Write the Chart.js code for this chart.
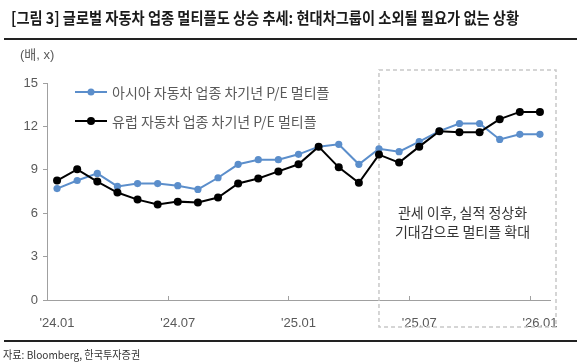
<!DOCTYPE html>
<html>
<head>
<meta charset="utf-8">
<script src="https://cdn.jsdelivr.net/npm/chart.js@4.4.1/dist/chart.umd.min.js"></script>
<style>
  body { margin: 0; width: 582px; height: 363px; position: relative; background: #fff; overflow: hidden;
         font-family: 'Liberation Sans', 'Noto Sans CJK KR', sans-serif; }
  #c { position: absolute; left: 0; top: 0; }
  .txt { position: absolute; white-space: nowrap; transform-origin: left center; }
  #title { left: 11px; top: 6px; font-size: 16px; line-height: 22px; font-weight: bold; color: #1a1a1a;
           font-family: 'Noto Sans CJK KR', sans-serif; transform: scaleX(0.89); }
  .rule { position: absolute; left: 4px; width: 573px; height: 2px; background: #222; }
  #src { left: 3px; top: 346px; font-size: 11px; line-height: 16px; color: #333;
         font-family: 'Noto Sans CJK KR', sans-serif; transform: scaleX(0.92); }
  #unit { left: 20px; top: 46px; font-size: 13px; line-height: 18px; color: #595959; }
</style>
</head>
<body>
<canvas id="c" width="582" height="363"></canvas>
<div id="title" class="txt">[그림 3] 글로벌 자동차 업종 멀티플도 상승 추세: 현대차그룹이 소외될 필요가 없는 상황</div>
<div class="rule" style="top:38px"></div>
<div class="rule" style="top:340px"></div>
<div id="src" class="txt">자료: Bloomberg, 한국투자증권</div>
<div id="unit" class="txt">(배, x)</div>
<script>
// monthly, '24.01 ~ '26.01
var months = ["'24.01", "'24.02", "'24.03", "'24.04", "'24.05", "'24.06", "'24.07", "'24.08", "'24.09",
              "'24.10", "'24.11", "'24.12", "'25.01", "'25.02", "'25.03", "'25.04", "'25.05", "'25.06",
              "'25.07", "'25.08", "'25.09", "'25.10", "'25.11", "'25.12", "'26.01"]
var asiaPE = [7.7, 8.26, 8.75, 7.85, 8.05, 8.05, 7.9, 7.64, 8.45, 9.38, 9.7, 9.7, 10.07,
              10.6, 10.76, 9.38, 10.45, 10.25, 10.95, 11.67, 12.2, 12.2, 11.1, 11.45, 11.45]
var europePE = [8.26, 9.03, 8.19, 7.43, 6.94, 6.6, 6.8, 6.74, 7.08, 8.05, 8.4, 8.89, 9.38,
                10.6, 9.17, 8.1, 10.05, 9.5, 10.6, 11.67, 11.6, 11.6, 12.5, 13.0, 13.0]
var seriesNames = ['아시아 자동차 업종 차기년 P/E 멀티플', '유럽 자동차 업종 차기년 P/E 멀티플']
var noteLines = ['관세 이후, 실적 정상화', '기대감으로 멀티플 확대']
var boxStart = 16   // '25.05

var blue = '#5b8ecb'
var black = '#000000'
var gray = '#595959'
var font = "'Liberation Sans', 'Noto Sans CJK KR', sans-serif"

var overlay = {
    id: 'overlay',
    beforeDatasetsDraw: function(chart) {
        var ctx = chart.ctx
        var x = chart.scales.x
        var y = chart.scales.y
        var a = chart.chartArea
        var left = x.getPixelForValue(boxStart)
        var right = a.right + 6
        var top = y.getPixelForValue(15) - 13
        var bottom = a.bottom + 27
        ctx.save()
        ctx.strokeStyle = '#c8c8c8'
        ctx.lineWidth = 1.5
        ctx.setLineDash([4, 3])
        ctx.strokeRect(left, top, right - left, bottom - top)
        ctx.setLineDash([])
        ctx.fillStyle = '#333'
        ctx.font = "14px 'Noto Sans CJK KR', sans-serif"
        ctx.textAlign = 'center'
        ctx.textBaseline = 'middle'
        var cx = (left + right) / 2 - 5
        ctx.fillText(noteLines[0], cx, 213)
        ctx.fillText(noteLines[1], cx, 232)
        ctx.restore()
    },
    afterDraw: function(chart) {
        var ctx = chart.ctx
        var x = chart.scales.x
        var a = chart.chartArea
        var step = x.getPixelForValue(1) - x.getPixelForValue(0)
        ctx.save()
        // small inward tick marks between categories
        ctx.strokeStyle = '#a0a0a0'
        ctx.lineWidth = 1
        for (var i = 6; i < months.length; i += 6) {
            var px = Math.round(x.getPixelForValue(i) - step / 2) + 0.5
            ctx.beginPath()
            ctx.moveTo(px, a.bottom)
            ctx.lineTo(px, a.bottom - 4)
            ctx.stroke()
        }
        // legend
        var colors = [blue, black]
        var radii = [3.5, 4]
        for (var k = 0; k < 2; k++) {
            var ly = a.top + 9 + k * 29
            var lx = a.left + 28
            ctx.strokeStyle = colors[k]
            ctx.lineWidth = 2
            ctx.beginPath()
            ctx.moveTo(lx, ly)
            ctx.lineTo(lx + 32, ly)
            ctx.stroke()
            ctx.fillStyle = colors[k]
            ctx.beginPath()
            ctx.arc(lx + 16, ly, radii[k], 0, Math.PI * 2)
            ctx.fill()
            ctx.fillStyle = gray
            ctx.font = "14px 'Noto Sans CJK KR', sans-serif"
            ctx.textAlign = 'left'
            ctx.textBaseline = 'middle'
            ctx.fillText(seriesNames[k], lx + 37, ly + 1)
        }
        ctx.restore()
    }
}

var chart = new Chart(document.getElementById('c').getContext('2d'), {
    type: 'line',
    data: {
        labels: months,
        datasets: [{
            label: seriesNames[1],
            data: europePE,
            borderColor: black,
            backgroundColor: black,
            borderWidth: 2,
            pointRadius: 4,
            pointBorderWidth: 0,
            tension: 0,
            order: 0
        }, {
            label: seriesNames[0],
            data: asiaPE,
            borderColor: blue,
            backgroundColor: blue,
            borderWidth: 2,
            pointRadius: 3.6,
            pointBorderWidth: 0,
            tension: 0,
            order: 1
        }]
    },
    options: {
        responsive: false,
        animation: false,
        devicePixelRatio: 1,
        layout: { padding: { top: 83, right: 32, bottom: 33, left: 0 } },
        plugins: { legend: { display: false }, tooltip: { enabled: false } },
        scales: {
            x: {
                type: 'category',
                offset: true,
                grid: { display: false },
                border: { display: true, color: '#a0a0a0', width: 1 },
                afterFit: function(s) { s.height = 30 },
                ticks: {
                    autoSkip: false,
                    maxRotation: 0,
                    padding: 8,
                    color: gray,
                    font: { family: font, size: 13 },
                    callback: function(v, i) { return i % 6 === 0 ? months[i] : '' }
                }
            },
            y: {
                min: 0,
                max: 15,
                grid: { drawOnChartArea: false, drawTicks: true, tickLength: 4, color: '#a0a0a0' },
                border: { display: true, color: '#a0a0a0', width: 1 },
                afterFit: function(s) { s.width = 47 },
                ticks: {
                    stepSize: 3,
                    padding: 5,
                    color: gray,
                    font: { family: font, size: 13 }
                }
            }
        }
    },
    plugins: [overlay]
})
</script>
</body>
</html>
